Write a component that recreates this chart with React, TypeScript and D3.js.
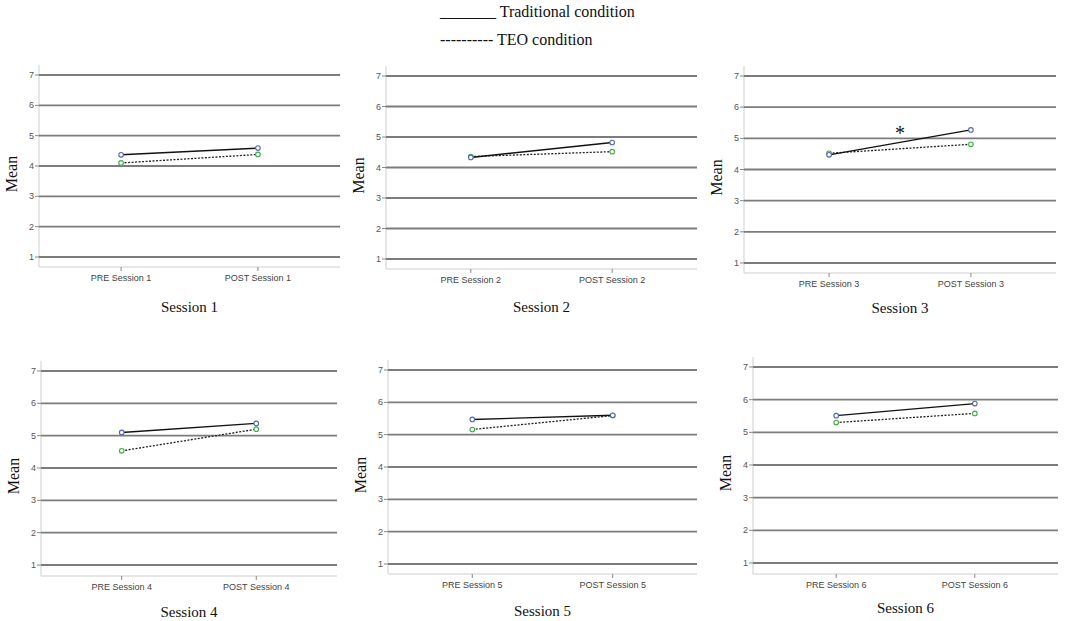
import * as d3 from "d3";
import { useEffect, useRef } from "react";

// values (mean scores, scale 1-7)
const sessions = ["Session 1", "Session 2", "Session 3", "Session 4", "Session 5", "Session 6"];
const phases = ["PRE", "POST"];
const traditional = [
  [4.37, 4.59],
  [4.33, 4.82],
  [4.47, 5.27],
  [5.1, 5.38],
  [5.47, 5.6],
  [5.51, 5.88],
];
const teo = [
  [4.1, 4.38],
  [4.36, 4.52],
  [4.52, 4.81],
  [4.53, 5.2],
  [5.16, 5.59],
  [5.3, 5.58],
];
const significant = [false, false, true, false, false, false];
const yTicks = [1, 2, 3, 4, 5, 6, 7];

// panel frames: left, right, y of 7, y of 1, y of x axis, title baseline
const frames = [
  { l: 39, r: 340, t: 75, b: 257, ab: 267, ty: 312 },
  { l: 386, r: 697, t: 76, b: 259, ab: 269, ty: 312 },
  { l: 744, r: 1056, t: 76, b: 263, ab: 273, ty: 313 },
  { l: 41, r: 337, t: 371, b: 565, ab: 576, ty: 617 },
  { l: 388, r: 697, t: 370, b: 564, ab: 574, ty: 616 },
  { l: 753, r: 1058, t: 367, b: 563, ab: 574, ty: 613 },
];

const W = 1065;
const H = 621;
const serif = "'Liberation Serif', 'Times New Roman', serif";
const sans = "Arial, 'Liberation Sans', sans-serif";

export default function App() {
  const ref = useRef<SVGSVGElement>(null);

  useEffect(() => {
    const svg = d3.select(ref.current);
    svg.selectAll("*").remove();

    // legend
    const legend = svg
      .append("g")
      .attr("font-family", serif)
      .attr("font-size", 16)
      .attr("fill", "#111");
    legend.append("text").attr("x", 440).attr("y", 17).text("_______ Traditional condition");
    legend.append("text").attr("x", 440).attr("y", 45).text("---------- TEO condition");

    sessions.forEach((name, i) => {
      const f = frames[i];
      const g = svg.append("g");

      const x = d3
        .scalePoint<string>()
        .domain(phases)
        .range([f.l, f.r])
        .padding(0.6);
      const y = d3.scaleLinear().domain([1, 7]).range([f.b, f.t]);

      // axis frame
      g.append("line")
        .attr("x1", f.l)
        .attr("x2", f.l)
        .attr("y1", f.t - 10)
        .attr("y2", f.ab)
        .attr("stroke", "#cfcfcf");
      g.append("line")
        .attr("x1", f.l)
        .attr("x2", f.r)
        .attr("y1", f.ab)
        .attr("y2", f.ab)
        .attr("stroke", "#cfcfcf");

      // gridlines + y ticks
      g.selectAll(".grid")
        .data(yTicks)
        .join("line")
        .attr("x1", f.l)
        .attr("x2", f.r)
        .attr("y1", (d) => y(d))
        .attr("y2", (d) => y(d))
        .attr("stroke", "#7c7c7c")
        .attr("stroke-width", 1.8);
      g.selectAll(".ytick")
        .data(yTicks)
        .join("line")
        .attr("x1", f.l - 4)
        .attr("x2", f.l)
        .attr("y1", (d) => y(d))
        .attr("y2", (d) => y(d))
        .attr("stroke", "#888");
      g.selectAll(".ylab")
        .data(yTicks)
        .join("text")
        .attr("x", f.l - 5)
        .attr("y", (d) => y(d))
        .attr("dy", "0.35em")
        .attr("text-anchor", "end")
        .attr("font-family", sans)
        .attr("font-size", 9)
        .attr("fill", "#555")
        .text((d) => d);

      // x ticks
      g.selectAll(".xtick")
        .data(phases)
        .join("line")
        .attr("x1", (d) => x(d)!)
        .attr("x2", (d) => x(d)!)
        .attr("y1", f.ab)
        .attr("y2", f.ab + 4)
        .attr("stroke", "#888");
      g.selectAll(".xlab")
        .data(phases)
        .join("text")
        .attr("x", (d) => x(d)!)
        .attr("y", f.ab + 14)
        .attr("text-anchor", "middle")
        .attr("font-family", sans)
        .attr("font-size", 9)
        .attr("fill", "#444")
        .text((d) => `${d} ${name}`);

      // y title
      g.append("text")
        .attr("transform", `translate(${f.l - 22},${(f.t + f.b) / 2 + 8}) rotate(-90)`)
        .attr("text-anchor", "middle")
        .attr("font-family", serif)
        .attr("font-size", 16)
        .attr("fill", "#111")
        .text("Mean");

      // panel title
      g.append("text")
        .attr("x", (x("PRE")! + x("POST")!) / 2)
        .attr("y", f.ty)
        .attr("text-anchor", "middle")
        .attr("font-family", serif)
        .attr("font-size", 15)
        .attr("fill", "#111")
        .text(name);

      const line = d3
        .line<number>()
        .x((_, j) => x(phases[j])!)
        .y((d) => y(d));

      g.append("path")
        .datum(teo[i])
        .attr("d", line)
        .attr("fill", "none")
        .attr("stroke", "#222")
        .attr("stroke-width", 1.3)
        .attr("stroke-dasharray", "2,1.5");
      g.append("path")
        .datum(traditional[i])
        .attr("d", line)
        .attr("fill", "none")
        .attr("stroke", "#111")
        .attr("stroke-width", 1.4);

      g.selectAll(".teo")
        .data(teo[i])
        .join("circle")
        .attr("cx", (_, j) => x(phases[j])!)
        .attr("cy", (d) => y(d))
        .attr("r", 2.3)
        .attr("fill", "#fff")
        .attr("stroke", "#3fae49")
        .attr("stroke-width", 1.1);
      g.selectAll(".trad")
        .data(traditional[i])
        .join("circle")
        .attr("cx", (_, j) => x(phases[j])!)
        .attr("cy", (d) => y(d))
        .attr("r", 2.3)
        .attr("fill", "#fff")
        .attr("stroke", "#5468b0")
        .attr("stroke-width", 1.1);

      if (significant[i]) {
        const mid = (traditional[i][0] + traditional[i][1]) / 2;
        g.append("text")
          .attr("x", (x("PRE")! + x("POST")!) / 2)
          .attr("y", y(mid + 0.45) + 12)
          .attr("text-anchor", "middle")
          .attr("font-family", serif)
          .attr("font-size", 20)
          .attr("fill", "#111")
          .text("*");
      }
    });
  }, []);

  return (
    <svg
      ref={ref}
      width={W}
      height={H}
      style={{ position: "absolute", left: 0, top: 0, background: "#fff" }}
    />
  );
}
